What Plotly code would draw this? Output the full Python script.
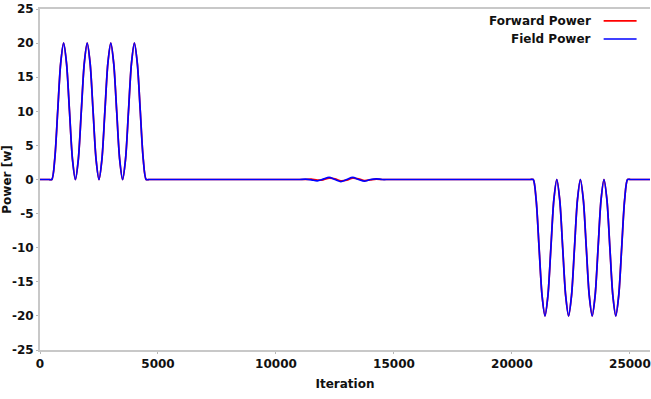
import plotly.graph_objects as go

# ---------------- data ----------------
pos_x = [0, 250, 375, 500, 625, 750, 875, 1000, 1125, 1250, 1375, 1500, 1625, 1750, 1875, 2000,
         2125, 2250, 2375, 2500, 2625, 2750, 2875, 3000, 3125, 3250, 3375, 3500,
         3625, 3750, 3875, 4000, 4125, 4250, 4375, 4500, 4625, 4750]
pos_y = [0, 0, 0, 0, 3, 10, 17, 20, 17, 10, 3, 0, 3, 10, 17, 20,
         17, 10, 3, 0, 3, 10, 17, 20, 17, 10, 3, 0,
         3, 10, 17, 20, 17, 10, 3, 0, 0, 0]

rip_x = [7500, 10500, 10750, 11000, 11250, 11500, 11750, 12000, 12250, 12500, 12750, 13000,
         13250, 13500, 13750, 14000, 14250, 14500, 14750, 15000, 15250]
field_rip_y = [0, 0, 0, 0, 0.05, -0.05, -0.2, 0.05, 0.3, 0.0, -0.3, 0.0,
               0.3, 0.0, -0.25, 0.0, 0.1, 0.0, 0, 0, 0]
fwd_rip_y = [0, 0, 0, 0, 0.0, 0.05, -0.1, -0.05, 0.2, 0.1, -0.2, -0.1,
             0.2, 0.1, -0.15, -0.05, 0.05, 0.0, 0, 0, 0]

neg_x = [18000, 20650, 20775, 20900, 21025, 21150, 21275, 21400, 21525, 21650, 21775, 21900,
         22025, 22150, 22275, 22400, 22525, 22650, 22775, 22900, 23025, 23150,
         23275, 23400, 23525, 23650, 23775, 23900, 24025, 24150, 24275, 24400,
         24525, 24650, 24775, 24900, 25025, 25150, 26000]
neg_y = [0, 0, 0, 0, -3, -10, -17, -20, -17, -10, -3, 0,
         -3, -10, -17, -20, -17, -10, -3, 0, -3, -10,
         -17, -20, -17, -10, -3, 0, -3, -10, -17, -20,
         -17, -10, -3, 0, 0, 0, 0]

iteration = pos_x + rip_x + neg_x
field_power = pos_y + field_rip_y + neg_y
forward_power = pos_y + fwd_rip_y + neg_y

series_names = ["Forward Power", "Field Power"]
series_colors = ["#ff0000", "#0000ff"]

x_ticks = [0, 5000, 10000, 15000, 20000, 25000]
y_ticks = [-25, -20, -15, -10, -5, 0, 5, 10, 15, 20, 25]

# ---------------- figure ----------------
fig = go.Figure()
for name, ys, col in zip(series_names, [forward_power, field_power], series_colors):
    fig.add_trace(go.Scatter(x=iteration, y=ys, mode="lines", name=name,
                             line=dict(color=col, width=1.7, shape="spline", smoothing=0.8)))

tick_font = dict(family="DejaVu Sans", size=12, color="#111111")
axis_common = dict(showgrid=False, zeroline=False, showline=True, linecolor="#c8c8c8",
                   linewidth=2, ticks="outside", ticklen=2, tickcolor="#b8b8b8",
                   tickfont=tick_font, ticklabeloverflow="allow")

fig.update_layout(
    width=651, height=399,
    margin=dict(l=39, r=0, t=9, b=49),
    plot_bgcolor="white", paper_bgcolor="white",
    showlegend=False,
    xaxis=dict(range=[0, 25850], tickvals=x_ticks, ticktext=["<b>%d</b>" % v for v in x_ticks],
               mirror=True,
               title=dict(text="<b>Iteration</b>", font=dict(family="DejaVu Sans", size=12, color="#111111"),
                          standoff=9),
               **axis_common),
    yaxis=dict(range=[-25, 25], tickvals=y_ticks, ticktext=["<b>%d</b>" % v for v in y_ticks],
               title=dict(text="<b>Power [w]</b>", font=dict(family="DejaVu Sans", size=12, color="#111111"),
                          standoff=4),
               **axis_common),
)

# legend drawn as right-aligned labels with line samples on the right
legend_rows = [0.965, 0.912]
for name, col, yy in zip(series_names, series_colors, legend_rows):
    fig.add_annotation(xref="paper", yref="paper", x=0.907, y=yy, xanchor="right", yanchor="middle",
                       text="<b>" + name + "</b>", showarrow=False,
                       font=dict(family="DejaVu Sans", size=12, color="#111111"))
    fig.add_shape(type="line", xref="paper", yref="paper", x0=0.924, x1=0.978, y0=yy, y1=yy,
                  line=dict(color=col, width=1.7))

fig.write_html("out.html")
